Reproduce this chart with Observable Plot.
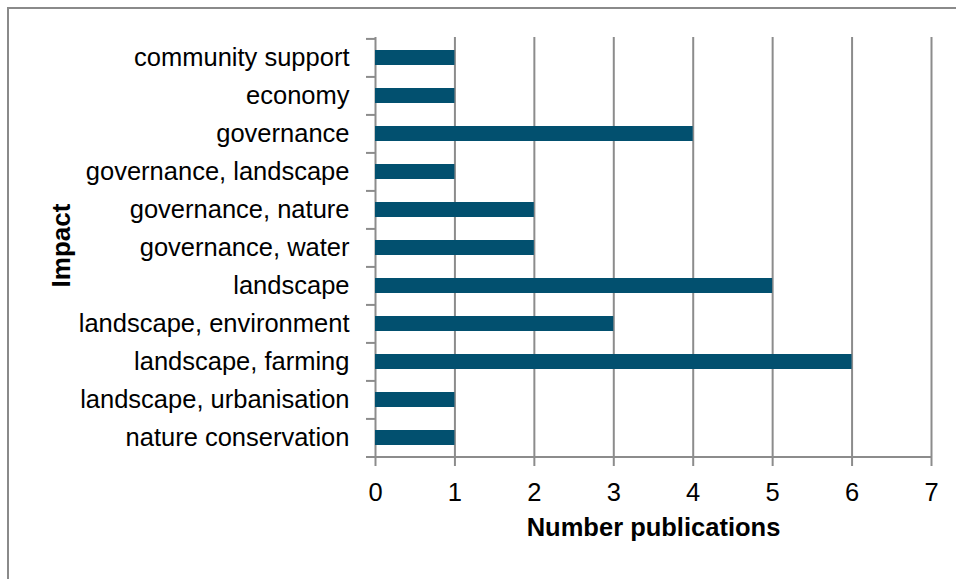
<!DOCTYPE html>
<html>
<head>
<meta charset="utf-8">
<script src="https://cdn.jsdelivr.net/npm/d3@7"></script>
<script src="https://cdn.jsdelivr.net/npm/@observablehq/plot@0.6"></script>
<style>
  html, body { margin: 0; padding: 0; background: #fff; }
  #wrap { position: relative; width: 956px; height: 579px; overflow: hidden; }
  #border { position: absolute; left: 7px; top: 7px; width: 1000px; height: 1000px;
            border-top: 2px solid #8a8a8a; border-left: 2px solid #8a8a8a; pointer-events: none; }
</style>
</head>
<body>
<div id="wrap"><div id="border"></div></div>
<script>
const categories = [
  "community support",
  "economy",
  "governance",
  "governance, landscape",
  "governance, nature",
  "governance, water",
  "landscape",
  "landscape, environment",
  "landscape, farming",
  "landscape, urbanisation",
  "nature conservation"
];
const publications = [1, 1, 4, 1, 2, 2, 5, 3, 6, 1, 1];
const xTicks = [0, 1, 2, 3, 4, 5, 6, 7];
const xTitle = "Number publications";
const yTitle = "Impact";

const data = categories.map((c, i) => ({impact: c, n: publications[i]}));

const W = 956, H = 579;
const mTop = 37, mBottom = 122, mLeft = 375, mRight = 25;
const step = (H - mTop - mBottom) / categories.length;
const gray = "#8c8c8c";
const font = "'Liberation Sans', Arial, sans-serif";

const chart = Plot.plot({
  width: W,
  height: H,
  marginTop: mTop,
  marginBottom: mBottom,
  marginLeft: mLeft,
  marginRight: mRight,
  style: {fontFamily: font, background: "transparent", color: "#000"},
  x: {domain: [0, 7], ticks: xTicks},
  y: {domain: categories, paddingInner: 0.607, paddingOuter: 0.3035, align: 0.5},
  marks: [
    Plot.ruleX(xTicks, {stroke: gray, strokeWidth: 2}),
    Plot.barX(data, {y: "impact", x: "n", fill: "#02506f"}),
    Plot.ruleY([categories[categories.length - 1]], {dy: step / 2, x1: 0, x2: 7, insetLeft: -9, stroke: gray, strokeWidth: 2}),
    Plot.axisY({tickSize: 9, tickFormat: () => "", dy: -step / 2, stroke: gray, strokeWidth: 2, label: null}),
    Plot.axisY({tickSize: 0, tickPadding: 26, fontSize: 25.5, fill: "#000", label: null}),
    Plot.axisX({ticks: xTicks, tickFormat: d3.format("d"), tickSize: 9, tickPadding: 16, fontSize: 25.5, stroke: gray, strokeWidth: 2, fill: "#000", label: null}),
    Plot.text([xTitle], {frameAnchor: "bottom", textAnchor: "middle", lineAnchor: "bottom", dy: 78, fontSize: 25.5, fontWeight: "bold", fill: "#000"}),
    Plot.text([yTitle], {frameAnchor: "left", textAnchor: "middle", lineAnchor: "bottom", rotate: -90, dx: -306, dy: -2, fontSize: 26, fontWeight: "bold", fill: "#000"})
  ]
});
document.getElementById("wrap").prepend(chart);
</script>
</body>
</html>
